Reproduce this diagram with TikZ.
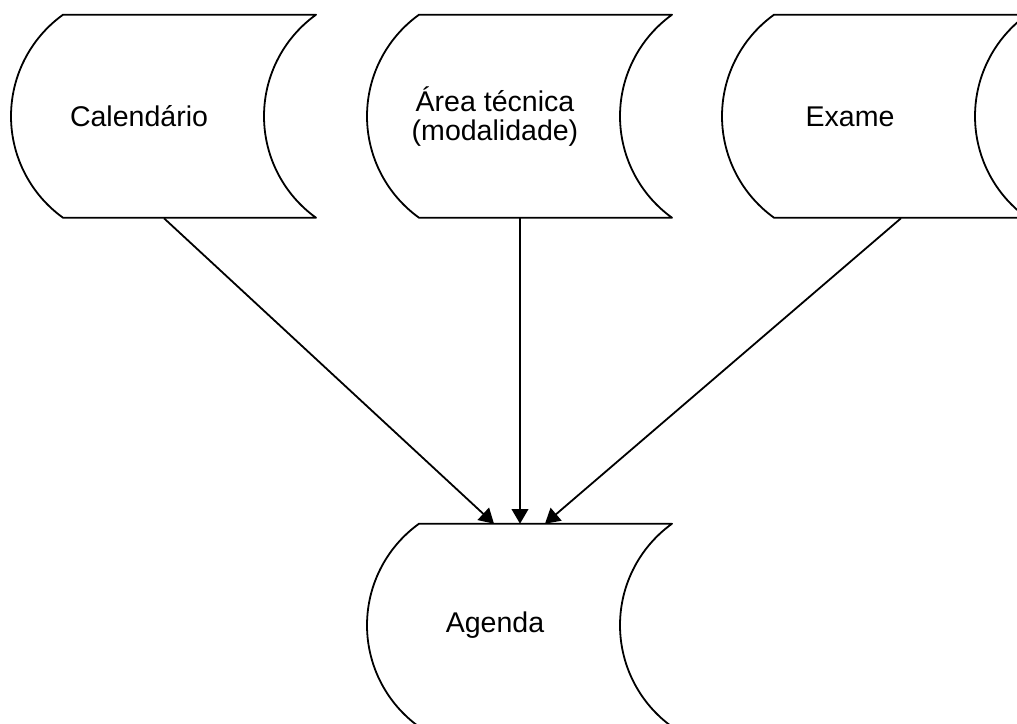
\documentclass[tikz,border=0pt]{standalone}
\usepackage{fontspec}
\setmainfont{Liberation Sans}
\usetikzlibrary{arrows.meta,calc}

\tikzset{
  store/.style={minimum height=152.25pt, inner sep=0pt, align=center,
                font=\fontsize{21.4}{21.8}\selectfont},
  outline/.style={line width=1.35pt, line join=round},
  flow/.style={line width=1.35pt, -{Triangle[length=11pt,width=12.5pt]}}
}

% Stored-data outline: flat top and bottom, convex left arc, concave right arc
\newcommand\storedoutline[1]{%
  \draw[outline] ([xshift=-57pt]#1.north) -- ++(189.75pt,0)
    arc[start angle=125.75, end angle=234.25, radius=93.8pt]
    -- ++(-189.75pt,0)
    arc[start angle=234.25, end angle=125.75, radius=93.8pt] -- cycle;}

\begin{document}
\begin{tikzpicture}[x=0.75pt, y=0.75pt]
  \fill[white] (0,0) rectangle (1017,724);
  \clip (0,0) rectangle (1017,724);
  \useasboundingbox (0,0) rectangle (1017,724);

  \node[store] (cal)    at (139,607.5) {Calendário};
  \node[store] (area)   at (495,607.5) {Área técnica\\(modalidade)};
  \node[store] (exame)  at (850,607.5) {Exame};
  \node[store] (agenda) at (495,98.5)  {Agenda};

  \storedoutline{cal}
  \storedoutline{area}
  \storedoutline{exame}
  \storedoutline{agenda}

  \draw[flow] ([xshift=18.75pt]cal.south)   -- ([xshift=-0.75pt]agenda.north);
  \draw[flow] ([xshift=18.75pt]area.south)  -- ([xshift=18.75pt]agenda.north);
  \draw[flow] ([xshift=38.25pt]exame.south) -- ([xshift=37.5pt]agenda.north);
\end{tikzpicture}
\end{document}
